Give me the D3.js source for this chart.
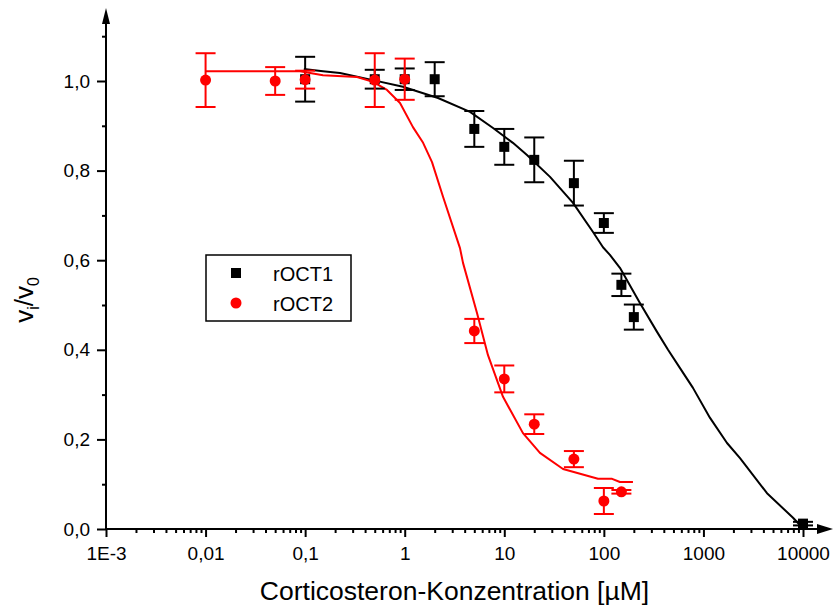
<!DOCTYPE html>
<html><head><meta charset="utf-8">
<script src="https://cdn.jsdelivr.net/npm/d3@7"></script>
<style>body{margin:0;background:#fff}svg{display:block}text{font-family:"Liberation Sans",Arial,sans-serif}</style>
</head><body><svg id="c" width="834" height="610"></svg>
<script>
// rOCT1 data (black squares)
const conc1 = [0.1, 0.5, 1, 2, 5, 10, 20, 50, 100, 150, 200, 10000];
const val1  = [1.004, 1.004, 1.004, 1.004, 0.893, 0.853, 0.824, 0.772, 0.683, 0.545, 0.473, 0.012];
const err1  = [0.05, 0.021, 0.024, 0.038, 0.04, 0.04, 0.05, 0.05, 0.022, 0.025, 0.028, 0.004];
// rOCT2 data (red circles)
const conc2 = [0.01, 0.05, 0.1, 0.5, 1, 5, 10, 20, 50, 100, 150];
const val2  = [1.002, 1.000, 1.003, 1.002, 1.004, 0.442, 0.335, 0.234, 0.156, 0.0625, 0.083];
const err2  = [0.06, 0.031, 0.02, 0.06, 0.046, 0.027, 0.03, 0.022, 0.018, 0.029, 0.004];
// fit curves
const fit1X = [0.097, 0.151, 0.224, 0.48, 0.96, 2.16, 4.53, 7.71, 12.2, 16.9, 28.8, 49, 77.8, 98, 115, 145, 231, 342, 441, 582, 785, 1165, 1725, 2330, 4350, 7940, 9770];
const fit1Y = [1.027, 1.022, 1.018, 1.002, 0.987, 0.962, 0.931, 0.895, 0.862, 0.835, 0.786, 0.728, 0.663, 0.629, 0.612, 0.583, 0.504, 0.440, 0.400, 0.359, 0.315, 0.248, 0.192, 0.158, 0.080, 0.025, 0.004];
const fit2X = [0.01, 0.089, 0.151, 0.332, 0.48, 0.664, 0.897, 1.21, 1.53, 1.88, 2.43, 3.59, 3.85, 5.32, 6.86, 9.71, 15.4, 22.8, 38.9, 87.3, 121, 145, 196];
const fit2Y = [1.022, 1.022, 1.013, 1.009, 0.998, 0.980, 0.951, 0.897, 0.862, 0.819, 0.741, 0.627, 0.594, 0.482, 0.388, 0.295, 0.214, 0.170, 0.134, 0.112, 0.112, 0.105, 0.105];
// ticks
const xTicks = [1e-3, 0.01, 0.1, 1, 10, 100, 1000, 10000];
const xTickLabels = ["1E-3", "0,01", "0,1", "1", "10", "100", "1000", "10000"];
const yTicks = [0, 0.2, 0.4, 0.6, 0.8, 1.0];
const yTickLabels = ["0,0", "0,2", "0,4", "0,6", "0,8", "1,0"];
const yMinor = [0.1, 0.3, 0.5, 0.7, 0.9, 1.1];
const seriesNames = ["rOCT1", "rOCT2"];
const xTitle = "Corticosteron-Konzentration [µM]";

const svg = d3.select("#c");
const x = d3.scaleLog().domain([1e-3, 1e4]).range([106, 803]);
const y = d3.scaleLinear().domain([0, 1]).range([529, 81]);

const xMinor = [];
for (let d = 1e-3; d < 1e4; d *= 10) for (let k = 2; k <= 9; k++) xMinor.push(d * k);

const x0 = x.range()[0], yb = y(0);
// X axis
const gx = svg.append("g").attr("transform", `translate(0,${yb})`);
gx.call(d3.axisBottom(x).tickValues(xMinor).tickSize(4).tickFormat(""))
  .call(g => g.select(".domain").remove());
gx.append("g").call(d3.axisBottom(x).tickValues(xTicks).tickSize(8).tickPadding(10)
  .tickFormat((d, i) => xTickLabels[i]))
  .call(g => g.select(".domain").remove());
gx.selectAll("line").attr("stroke", "#000").attr("stroke-width", 2);
gx.selectAll("text").attr("font-size", 19).attr("fill", "#000").attr("font-family", "Liberation Sans, Arial, sans-serif");
// Y axis
const gy = svg.append("g").attr("transform", `translate(${x0},0)`);
gy.call(d3.axisLeft(y).tickValues(yMinor).tickSize(4).tickFormat(""))
  .call(g => g.select(".domain").remove());
gy.append("g").call(d3.axisLeft(y).tickValues(yTicks).tickSize(9).tickPadding(7)
  .tickFormat((d, i) => yTickLabels[i]))
  .call(g => g.select(".domain").remove());
gy.selectAll("line").attr("stroke", "#000").attr("stroke-width", 2);
gy.selectAll("text").attr("font-size", 19).attr("fill", "#000").attr("font-family", "Liberation Sans, Arial, sans-serif");

// axis lines with arrows
const xEnd = 833, yTop = 8;
svg.append("line").attr("x1", x0 - 1).attr("x2", xEnd - 12).attr("y1", yb).attr("y2", yb).attr("stroke", "#000").attr("stroke-width", 2);
svg.append("path").attr("d", `M${xEnd},${yb}L${xEnd - 16},${yb - 5}L${xEnd - 16},${yb + 5}Z`).attr("fill", "#000");
svg.append("line").attr("x1", x0).attr("x2", x0).attr("y1", yb + 1).attr("y2", yTop + 12).attr("stroke", "#000").attr("stroke-width", 2);
svg.append("path").attr("d", `M${x0},${yTop}L${x0 - 4},${yTop + 16}L${x0 + 4},${yTop + 16}Z`).attr("fill", "#000");

// fit curves
const line = d3.line().x(d => x(d[0])).y(d => y(d[1]));
svg.append("path").datum(fit1X.map((v, i) => [v, fit1Y[i]])).attr("d", line)
  .attr("fill", "none").attr("stroke", "#000").attr("stroke-width", 2).attr("stroke-linejoin", "round");
svg.append("path").datum(fit2X.map((v, i) => [v, fit2Y[i]])).attr("d", line)
  .attr("fill", "none").attr("stroke", "#ff0000").attr("stroke-width", 2).attr("stroke-linejoin", "round");

function errBars(conc, val, err, color) {
  const g = svg.append("g").attr("stroke", color).attr("stroke-width", 2);
  conc.forEach((c, i) => {
    const cx = x(c), t = y(val[i] + err[i]), b = y(val[i] - err[i]);
    g.append("line").attr("x1", cx).attr("x2", cx).attr("y1", t).attr("y2", b);
    g.append("line").attr("x1", cx - 10).attr("x2", cx + 10).attr("y1", t).attr("y2", t);
    g.append("line").attr("x1", cx - 10).attr("x2", cx + 10).attr("y1", b).attr("y2", b);
  });
}
errBars(conc1, val1, err1, "#000");
svg.append("g").selectAll("rect").data(conc1).join("rect")
  .attr("x", d => x(d) - 5).attr("y", (d, i) => y(val1[i]) - 5).attr("width", 10).attr("height", 10).attr("fill", "#000");
errBars(conc2, val2, err2, "#ff0000");
svg.append("g").selectAll("circle").data(conc2).join("circle")
  .attr("cx", d => x(d)).attr("cy", (d, i) => y(val2[i])).attr("r", 5.5).attr("fill", "#ff0000");

// legend
const lg = svg.append("g");
lg.append("rect").attr("x", 206).attr("y", 255).attr("width", 145).attr("height", 66)
  .attr("fill", "#fff").attr("stroke", "#000").attr("stroke-width", 1.5);
lg.append("rect").attr("x", 231).attr("y", 268).attr("width", 10).attr("height", 10).attr("fill", "#000");
lg.append("circle").attr("cx", 236).attr("cy", 303).attr("r", 5.5).attr("fill", "#ff0000");
lg.append("text").attr("x", 273).attr("y", 281).attr("font-size", 20).text(seriesNames[0]);
lg.append("text").attr("x", 273).attr("y", 311).attr("font-size", 20).text(seriesNames[1]);

// titles
svg.append("text").attr("x", (x.range()[0] + x.range()[1]) / 2).attr("y", 600).attr("text-anchor", "middle")
  .attr("font-size", 26.5).text(xTitle);
const yl = svg.append("text").attr("transform", "translate(33,300) rotate(-90)").attr("text-anchor", "middle").attr("font-size", 26);
yl.append("tspan").text("v");
yl.append("tspan").attr("font-size", 16).attr("dy", 6).text("i");
yl.append("tspan").attr("dy", -6).text("/v");
yl.append("tspan").attr("font-size", 16).attr("dy", 6).text("0");
</script></body></html>
